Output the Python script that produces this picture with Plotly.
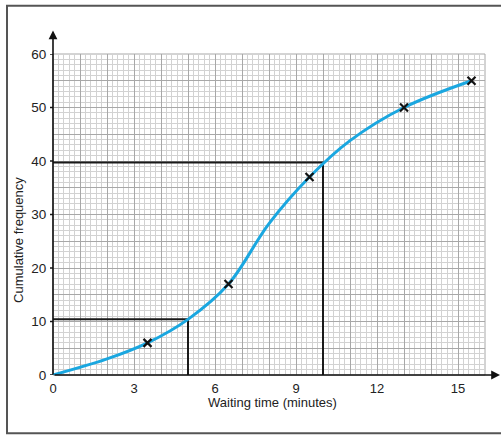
import plotly.graph_objects as go

# ---- data ----
curve_x = [0, 2, 3.5, 5, 6.5, 8, 9.5, 11, 13, 15.5]
curve_y = [0, 3.0, 6, 10.4, 17, 28.3, 37, 43.8, 50, 55]
points_x = [3.5, 6.5, 9.5, 13, 15.5]
points_y = [6, 17, 37, 50, 55]
read_x = [5, 10]          # readings taken off the curve
read_y = [10.4, 39.7]
x_ticks = [0, 3, 6, 9, 12, 15]
y_ticks = [0, 10, 20, 30, 40, 50, 60]
x_title = "Waiting time (minutes)"
y_title = "Cumulative frequency"

W, H = 501, 435
L, R, T, B = 53, 485, 53.5, 375.5     # plot area in pixels
XMAX, YMAX = 16, 60

def px(x):   # pixel x -> paper x
    return (x - L) / (R - L)

def py(y):   # pixel y -> paper y
    return (B - y) / (B - T)

FONT = "Liberation Sans, Arial, Helvetica, sans-serif"
TXT = "#222222"
BLUE = "#1aa7e0"

fig = go.Figure()

# reading lines
for rx, ry in zip(read_x, read_y):
    fig.add_trace(go.Scatter(x=[0, rx, rx], y=[ry, ry, 0], mode="lines",
                             line=dict(color="#1a1a1a", width=2),
                             hoverinfo="skip", showlegend=False))

# curve
fig.add_trace(go.Scatter(x=curve_x, y=curve_y, mode="lines",
                         line=dict(color=BLUE, width=3, shape="spline", smoothing=1.0),
                         showlegend=False))

# plotted points
fig.add_trace(go.Scatter(x=points_x, y=points_y, mode="markers",
                         marker=dict(symbol="x-thin", size=8,
                                     line=dict(color="#111111", width=2.2)),
                         showlegend=False))

x_vals = list(range(0, XMAX + 1))
y_vals = list(range(0, YMAX + 1, 5))
fig.update_xaxes(range=[0, XMAX], tickmode="array", tickvals=x_vals,
                 ticktext=[str(v) if v in x_ticks else "" for v in x_vals],
                 showgrid=True, gridcolor="#a8a8a8", gridwidth=1,
                 minor=dict(dtick=0.2, tick0=0, showgrid=True, gridcolor="#d2d2d2", gridwidth=1),
                 showline=False, zeroline=False,
                 ticks="outside", ticklen=1, tickcolor="rgba(0,0,0,0)",
                 tickfont=dict(family=FONT, size=13, color=TXT),
                 fixedrange=True)
fig.update_yaxes(range=[0, YMAX], tickmode="array", tickvals=y_vals,
                 ticktext=[str(v) if v in y_ticks else "" for v in y_vals],
                 showgrid=True, gridcolor="#a8a8a8", gridwidth=1,
                 minor=dict(dtick=1, tick0=0, showgrid=True, gridcolor="#d2d2d2", gridwidth=1),
                 showline=False, zeroline=False,
                 ticks="outside", ticklen=3, tickcolor="rgba(0,0,0,0)",
                 tickfont=dict(family=FONT, size=13.5, color=TXT),
                 fixedrange=True)

shapes = [
    # outer frame
    dict(type="rect", xref="paper", yref="paper", x0=px(7), x1=px(520), y0=py(434), y1=py(5),
         line=dict(color="#555555", width=2), fillcolor="rgba(0,0,0,0)", layer="below"),
    # border of grid
    dict(type="rect", xref="paper", yref="paper", x0=0, x1=1, y0=0, y1=1,
         line=dict(color="#a8a8a8", width=1), layer="below"),
]
# small tick marks on y axis
for v in y_ticks:
    shapes.append(dict(type="line", xref="paper", yref="y", x0=px(L - 3), x1=0, y0=v, y1=v,
                       line=dict(color="#1a1a1a", width=1.5)))
fig.update_layout(shapes=shapes)

annotations = [
    # y axis with arrow
    dict(xref="paper", yref="paper", x=0, y=py(30), ax=0, ay=B - 30, axref="pixel", ayref="pixel",
         showarrow=True, arrowhead=2, arrowsize=1.1, arrowwidth=1.6, arrowcolor="#111111", text=""),
    # x axis with arrow
    dict(xref="paper", yref="paper", x=px(500), y=0, ax=-(500 - L), ay=0, axref="pixel", ayref="pixel",
         showarrow=True, arrowhead=2, arrowsize=1.1, arrowwidth=1.6, arrowcolor="#111111", text=""),
    # axis titles
    dict(xref="paper", yref="paper", x=px(272), y=py(403), text=x_title, showarrow=False,
         font=dict(family=FONT, size=13, color=TXT), xanchor="center", yanchor="middle"),
    dict(xref="paper", yref="paper", x=px(19), y=py(240), text=y_title, showarrow=False, textangle=-90,
         font=dict(family=FONT, size=13, color=TXT), xanchor="center", yanchor="middle"),
]
fig.update_layout(annotations=annotations)

fig.update_layout(width=W, height=H,
                  margin=dict(l=L, r=W - R, t=T, b=H - B, pad=0),
                  paper_bgcolor="white", plot_bgcolor="white",
                  showlegend=False)

fig.write_html("out.html", config={"displayModeBar": False},
               post_script="document.body.style.margin='0';document.body.style.overflow='hidden';")
